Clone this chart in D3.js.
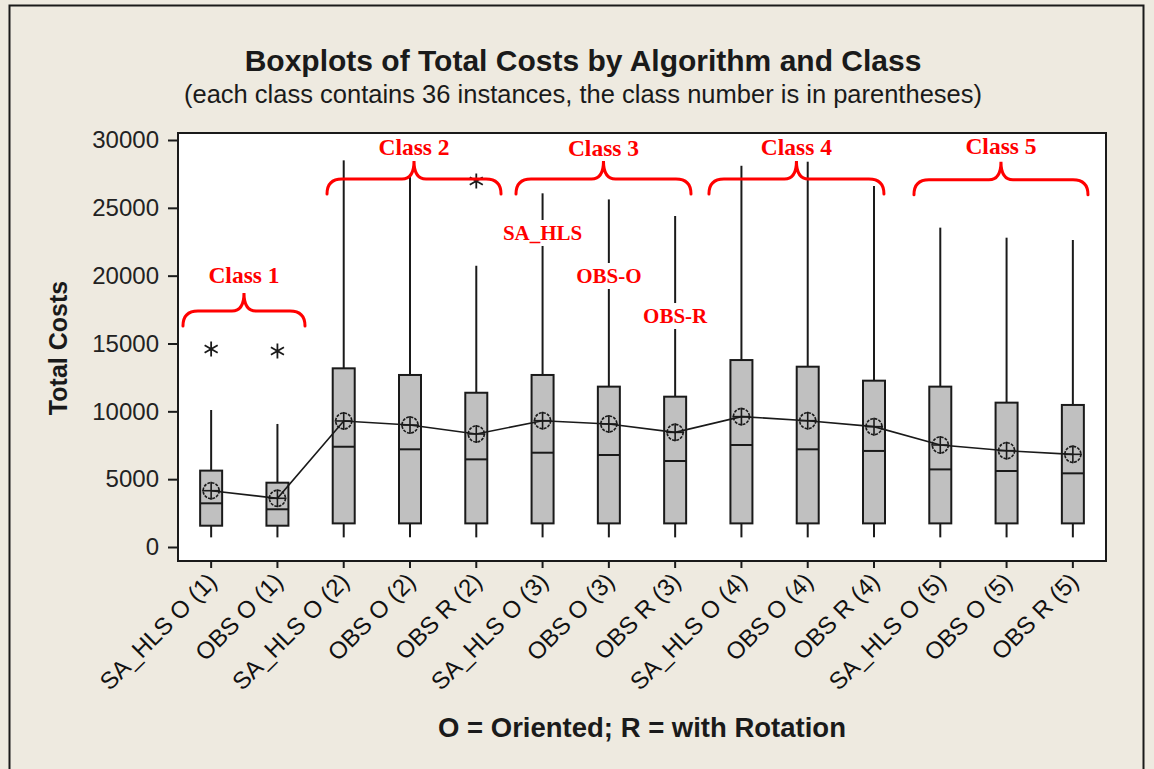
<!DOCTYPE html>
<html><head><meta charset="utf-8">
<script src="https://cdn.jsdelivr.net/npm/d3@7"></script>
<style>body{margin:0;background:#EEEAE0;} svg{display:block}</style>
</head><body>
<svg id="chart" width="1154" height="769"></svg>
<script>
// ---------- data ----------
const categories = ["SA_HLS O (1)","OBS O (1)","SA_HLS O (2)","OBS O (2)","OBS R (2)",
  "SA_HLS O (3)","OBS O (3)","OBS R (3)","SA_HLS O (4)","OBS O (4)","OBS R (4)",
  "SA_HLS O (5)","OBS O (5)","OBS R (5)"];
const whiskerLow  = [710,710,710,710,710,710,710,710,710,710,710,710,710,710];
const q1          = [1570,1570,1740,1740,1740,1740,1740,1740,1740,1740,1740,1740,1740,1740];
const median      = [3220,2780,7390,7200,6460,6950,6780,6340,7520,7200,7080,5720,5600,5430];
const q3          = [5630,4740,13170,12680,11370,12680,11820,11080,13780,13290,12260,11820,10640,10470];
const whiskerHigh = [10100,9070,28500,27400,20730,26070,25620,24400,28100,28400,26610,23540,22800,22630];
const means       = [4150,3590,9290,8990,8330,9310,9070,8450,9610,9310,8870,7520,7100,6830];
const outlierCategory = ["SA_HLS O (1)","OBS O (1)","OBS R (2)"];
const outlierValue    = [14600,14450,26980];
const yTicks = [0,5000,10000,15000,20000,25000,30000];

// annotations (positions in category-index units and data units)
const classLabels    = ["Class 1","Class 2","Class 3","Class 4","Class 5"];
const classBraceFrom = [-0.425,1.748,4.599,7.510,10.603];
const classBraceTo   = [1.416,4.373,7.239,10.150,13.228];
const classBraceTip  = [18720,28450,28450,28450,28400];
const classLabelValue= [19460,28890,28850,28890,28960];
const algoLabels        = ["SA_HLS","OBS-O","OBS-R"];
const algoLabelCategory = ["SA_HLS O (3)","OBS O (3)","OBS R (3)"];
const algoLabelValue    = [22630,19460,16510];

const title = "Boxplots of Total Costs by Algorithm and Class";
const subtitle = "(each class contains 36 instances, the class number is in parentheses)";
const yTitle = "Total Costs";
const xTitle = "O = Oriented; R = with Rotation";

// ---------- layout ----------
const svg = d3.select("#chart");
const plot = {left:178, right:1106, top:133, bottom:561};
const x = d3.scaleBand().domain(categories).range([plot.left, plot.right]).padding(0);
const y = d3.scaleLinear().domain([0,30000]).range([547,140]);
const xc = c => x(c) + x.bandwidth()/2;
const xi = i => plot.left + x.step()*(i+0.5);
const boxW = 22;
const ink = "#1a1a1a";

// outer frame
svg.append("rect").attr("x",0).attr("y",0).attr("width",1154).attr("height",769).attr("fill","#EEEAE0");
svg.append("rect").attr("x",9.5).attr("y",5.5).attr("width",1134).attr("height",800)
  .attr("fill","none").attr("stroke","#1a1a1a").attr("stroke-width",2);

// titles
svg.append("text").attr("x",583).attr("y",71).attr("text-anchor","middle")
  .style("font-family","'Liberation Sans', Arial, sans-serif").style("font-weight","bold")
  .style("font-size","30px").attr("fill",ink).text(title);
svg.append("text").attr("x",583).attr("y",103).attr("text-anchor","middle")
  .style("font-family","'Liberation Sans', Arial, sans-serif")
  .style("font-size","25.5px").attr("fill",ink).text(subtitle);

// plot area
svg.append("rect").attr("x",plot.left).attr("y",plot.top)
  .attr("width",plot.right-plot.left).attr("height",plot.bottom-plot.top)
  .attr("fill","#ffffff").attr("stroke",ink).attr("stroke-width",2);

// y axis
const yAxis = svg.append("g").attr("transform",`translate(${plot.left},0)`)
  .call(d3.axisLeft(y).tickValues(yTicks).tickSize(10).tickPadding(9).tickFormat(d3.format("d")));
yAxis.select(".domain").remove();
yAxis.selectAll("line").attr("stroke",ink).attr("stroke-width",2);
yAxis.selectAll("text").style("font-family","'Liberation Sans', Arial, sans-serif")
  .style("font-size","24px").attr("fill","#222");

// x axis
const xAxis = svg.append("g").attr("transform",`translate(0,${plot.bottom})`)
  .call(d3.axisBottom(x).tickSize(7).tickPadding(4));
xAxis.select(".domain").remove();
xAxis.selectAll("line").attr("stroke",ink).attr("stroke-width",2);
xAxis.selectAll("text")
  .style("font-family","'Liberation Sans', Arial, sans-serif").style("font-size","24px")
  .attr("fill","#111").attr("text-anchor","end").attr("dy",null).attr("y",0)
  .attr("transform","translate(7,22) rotate(-45)");

// axis titles
svg.append("text").attr("transform",`translate(67,348) rotate(-90)`).attr("text-anchor","middle")
  .style("font-family","'Liberation Sans', Arial, sans-serif").style("font-weight","bold")
  .style("font-size","25px").attr("fill",ink).text(yTitle);
svg.append("text").attr("x",(plot.left+plot.right)/2).attr("y",737).attr("text-anchor","middle")
  .style("font-family","'Liberation Sans', Arial, sans-serif").style("font-weight","bold")
  .style("font-size","27.5px").attr("fill",ink).text(xTitle);

// boxes
const rows = categories.map((c,i)=>({c, lo:whiskerLow[i], q1:q1[i], med:median[i], q3:q3[i], hi:whiskerHigh[i], mean:means[i]}));
const g = svg.append("g");
g.selectAll(".wh").data(rows).join("line").attr("class","wh")
  .attr("x1",d=>xc(d.c)).attr("x2",d=>xc(d.c)).attr("y1",d=>y(d.hi)).attr("y2",d=>y(d.q3))
  .attr("stroke",ink).attr("stroke-width",2);
g.selectAll(".wl").data(rows).join("line").attr("class","wl")
  .attr("x1",d=>xc(d.c)).attr("x2",d=>xc(d.c)).attr("y1",d=>y(d.q1)).attr("y2",d=>y(d.lo))
  .attr("stroke",ink).attr("stroke-width",2);
g.selectAll(".box").data(rows).join("rect").attr("class","box")
  .attr("x",d=>xc(d.c)-boxW/2).attr("width",boxW)
  .attr("y",d=>y(d.q3)).attr("height",d=>y(d.q1)-y(d.q3))
  .attr("fill","#c0c0c0").attr("stroke",ink).attr("stroke-width",2);
g.selectAll(".med").data(rows).join("line").attr("class","med")
  .attr("x1",d=>xc(d.c)-boxW/2).attr("x2",d=>xc(d.c)+boxW/2)
  .attr("y1",d=>y(d.med)).attr("y2",d=>y(d.med))
  .attr("stroke",ink).attr("stroke-width",2);

// mean connect line
g.append("path").datum(rows)
  .attr("d",d3.line().x(d=>xc(d.c)).y(d=>y(d.mean)))
  .attr("fill","none").attr("stroke",ink).attr("stroke-width",1.6);

// mean symbols
const ms = g.selectAll(".mean").data(rows).join("g").attr("class","mean")
  .attr("transform",d=>`translate(${xc(d.c)},${y(d.mean)})`);
ms.append("circle").attr("r",8).attr("fill","none").attr("stroke",ink).attr("stroke-width",1.6)
  .attr("stroke-dasharray","3,1.2");
ms.append("line").attr("x1",-9).attr("x2",9).attr("stroke",ink).attr("stroke-width",1.6);
ms.append("line").attr("y1",-9).attr("y2",9).attr("stroke",ink).attr("stroke-width",1.6);

// outliers
g.selectAll(".out").data(outlierCategory.map((c,i)=>({c, v:outlierValue[i]}))).join("path")
  .attr("class","out")
  .attr("transform",d=>`translate(${xc(d.c)},${y(d.v)})`)
  .attr("d",d3.symbol(d3.symbolAsterisk,160))
  .attr("fill","none").attr("stroke",ink).attr("stroke-width",1.8);

// annotations: algorithm labels with white background
const red = "#ff0000";
const al = svg.append("g");
algoLabels.forEach((t,i)=>{
  const gx = xc(algoLabelCategory[i]), gy = y(algoLabelValue[i]);
  const txt = al.append("text").attr("x",gx).attr("y",gy).attr("text-anchor","middle")
    .style("font-family","'Liberation Serif','Times New Roman',serif").style("font-weight","bold")
    .style("font-size","21px").attr("fill",red).text(t);
  const bb = txt.node().getBBox();
  al.insert("rect","text").attr("x",bb.x-2).attr("y",bb.y-1).attr("width",bb.width+4).attr("height",bb.height+2)
    .attr("fill","#ffffff");
});

// class braces
const bg = svg.append("g");
classLabels.forEach((t,i)=>{
  const x0 = xi(classBraceFrom[i]), x1 = xi(classBraceTo[i]);
  const xm = (x0+x1)/2, yt = y(classBraceTip[i]);
  const ya = yt + 18, ye = yt + 33;
  const r = 15, r2 = 12;
  const p = d3.path();
  p.moveTo(x0, ye);
  p.quadraticCurveTo(x0, ya, x0+r, ya);
  p.lineTo(xm-r2, ya);
  p.quadraticCurveTo(xm, ya, xm, yt);
  p.quadraticCurveTo(xm, ya, xm+r2, ya);
  p.lineTo(x1-r, ya);
  p.quadraticCurveTo(x1, ya, x1, ye);
  bg.append("path").attr("d",p.toString()).attr("fill","none")
    .attr("stroke",red).attr("stroke-width",3).attr("stroke-linecap","round");
  bg.append("text").attr("x",xm).attr("y",y(classLabelValue[i])).attr("text-anchor","middle")
    .style("font-family","'Liberation Serif','Times New Roman',serif").style("font-weight","bold")
    .style("font-size","23.5px").attr("fill",red).text(t);
});
</script>
</body></html>
